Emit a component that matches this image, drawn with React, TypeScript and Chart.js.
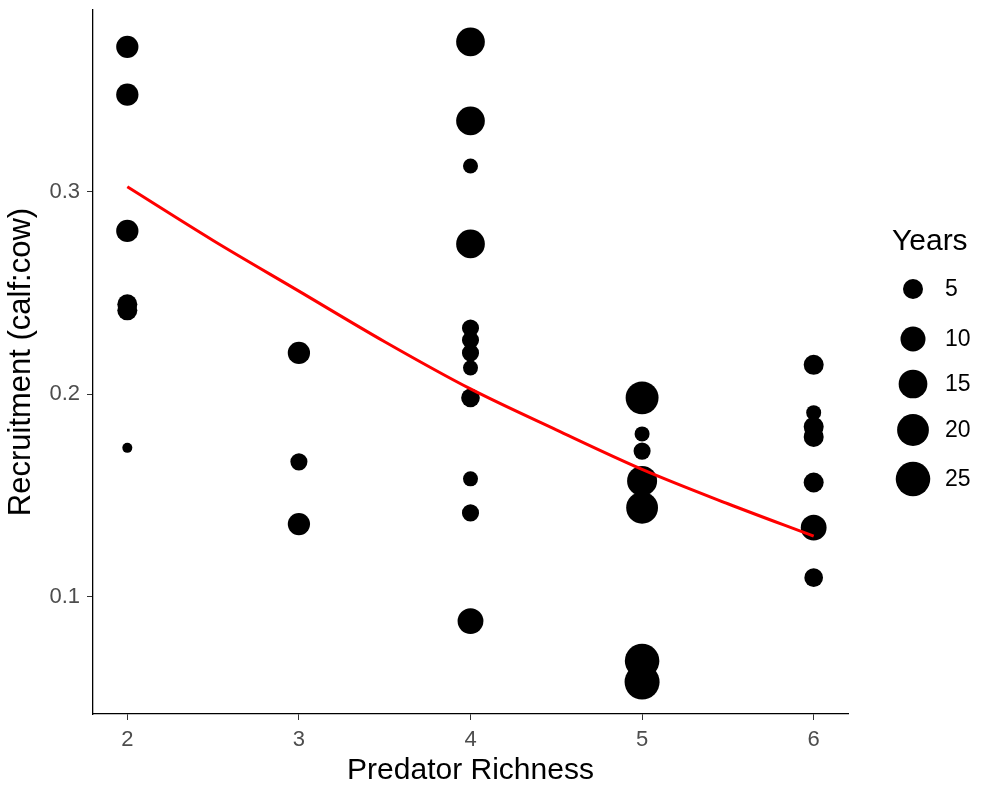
import React, { useEffect, useRef } from "react";
import { Chart, registerables } from "chart.js";

Chart.register(...registerables);

// ---- data ----
const richness = [
  2, 2, 2, 2, 2, 2,
  3, 3, 3,
  4, 4, 4, 4, 4, 4, 4, 4, 4, 4, 4, 4,
  5, 5, 5, 5, 5, 5, 5,
  6, 6, 6, 6, 6, 6, 6,
];
const recruitment = [
  0.3716, 0.348, 0.2807, 0.2445, 0.2415, 0.1736,
  0.2205, 0.1667, 0.136,
  0.3741, 0.3351, 0.3128, 0.2743, 0.2328, 0.2269, 0.2205, 0.2131, 0.1983, 0.1583, 0.1415, 0.0881,
  0.1983, 0.1805, 0.172, 0.1573, 0.144, 0.0684, 0.058,
  0.2146, 0.191, 0.184, 0.179, 0.1565, 0.1342, 0.1095,
];
const years = [
  7, 7, 7, 5, 5, 1,
  7, 3, 7,
  15, 15, 2, 15, 3, 3, 3, 2, 4, 2, 3, 11,
  22, 2, 3, 17, 20, 25, 26,
  5, 2, 5, 5, 5, 11, 4,
];
const fitX = [2, 2.5, 3, 3.5, 4, 4.5, 5, 5.5, 6];
const fitY = [0.3025, 0.276, 0.251, 0.226, 0.2027, 0.1825, 0.163, 0.146, 0.13];
const xTicks = [2, 3, 4, 5, 6];
const yTicks = [0.1, 0.2, 0.3];
const legendYears = [5, 10, 15, 20, 25];

const FONT = "'Liberation Sans', Arial, sans-serif";
const YEARS_MIN = 1;
const YEARS_MAX = 28;
const R_MIN = 5;
const R_SPAN = 13;
const radiusFor = (y: number) =>
  R_MIN + R_SPAN * Math.sqrt(Math.max(0, (y - YEARS_MIN) / (YEARS_MAX - YEARS_MIN)));

const sizeLegend = {
  id: "sizeLegend",
  afterDraw(chart: any) {
    const ctx = chart.ctx;
    ctx.save();
    ctx.fillStyle = "#000";
    ctx.font = `30px ${FONT}`;
    ctx.textAlign = "left";
    ctx.textBaseline = "middle";
    ctx.fillText("Years", 892, 242);
    const keyYs = [289, 339, 384, 430, 479];
    legendYears.forEach((v, i) => {
      ctx.beginPath();
      ctx.arc(913, keyYs[i], radiusFor(v), 0, Math.PI * 2);
      ctx.fillStyle = "#000";
      ctx.fill();
      ctx.font = `23px ${FONT}`;
      ctx.fillStyle = "#000";
      ctx.fillText(String(v), 945, keyYs[i] + 1);
    });
    ctx.restore();
  },
};

export default function App() {
  const ref = useRef<HTMLCanvasElement | null>(null);
  useEffect(() => {
    document.body.style.margin = "0";
    const canvas = ref.current!;
    const points = richness.map((x, i) => ({ x, y: recruitment[i] }));
    const fit = fitX.map((x, i) => ({ x, y: fitY[i] }));
    const chart = new Chart(canvas, {
      type: "scatter",
      data: {
        datasets: [
          {
            type: "line",
            data: fit,
            borderColor: "#FF0000",
            borderWidth: 3,
            pointRadius: 0,
            cubicInterpolationMode: "monotone",
            fill: false,
            clip: false,
            order: 0,
          } as any,
          {
            type: "scatter",
            data: points,
            backgroundColor: "#000",
            borderWidth: 0,
            clip: false,
            pointRadius: (c: any) => radiusFor(years[c.dataIndex]),
            pointHoverRadius: (c: any) => radiusFor(years[c.dataIndex]),
            order: 1,
          } as any,
        ],
      },
      options: {
        responsive: false,
        animation: false,
        events: [],
        layout: { autoPadding: false, padding: { left: 0, top: 10, right: 138, bottom: 0 } },
        plugins: { legend: { display: false }, tooltip: { enabled: false } },
        scales: {
          x: {
            type: "linear",
            min: 1.8,
            max: 6.2,
            afterBuildTicks: (s: any) => {
              s.ticks = xTicks.map((v) => ({ value: v }));
            },
            afterFit: (s: any) => {
              s.height = 75;
              s.paddingLeft = 0;
              s.paddingRight = 0;
            },
            ticks: {
              color: "#4D4D4D",
              font: { family: FONT, size: 22 },
              padding: 7,
              maxRotation: 0,
              callback: (v: any) => String(v),
            },
            grid: { drawOnChartArea: false, drawTicks: true, tickLength: 6, color: "#333" },
            border: { display: true, color: "#000", width: 1.3 },
            title: {
              display: true,
              text: "Predator Richness",
              color: "#000",
              font: { family: FONT, size: 30 },
              padding: { top: 0, bottom: 0 },
            },
          },
          y: {
            type: "linear",
            min: 0.0422,
            max: 0.3898,
            afterBuildTicks: (s: any) => {
              s.ticks = yTicks.map((v) => ({ value: v }));
            },
            afterFit: (s: any) => {
              s.width = 93;
              s.paddingTop = 0;
              s.paddingBottom = 0;
            },
            ticks: {
              color: "#4D4D4D",
              font: { family: FONT, size: 22 },
              padding: 7,
              callback: (v: any) => Number(v).toFixed(1),
            },
            grid: { drawOnChartArea: false, drawTicks: true, tickLength: 6, color: "#333" },
            border: { display: true, color: "#000", width: 1.3 },
            title: {
              display: true,
              text: "Recruitment (calf:cow)",
              color: "#000",
              font: { family: FONT, size: 31 },
              padding: { top: 3, bottom: 0 },
            },
          },
        },
      },
      plugins: [sizeLegend],
    });
    return () => chart.destroy();
  }, []);
  return (
    <div style={{ width: 986, height: 789 }}>
      <canvas ref={ref} width={986} height={789} style={{ display: "block" }} />
    </div>
  );
}
